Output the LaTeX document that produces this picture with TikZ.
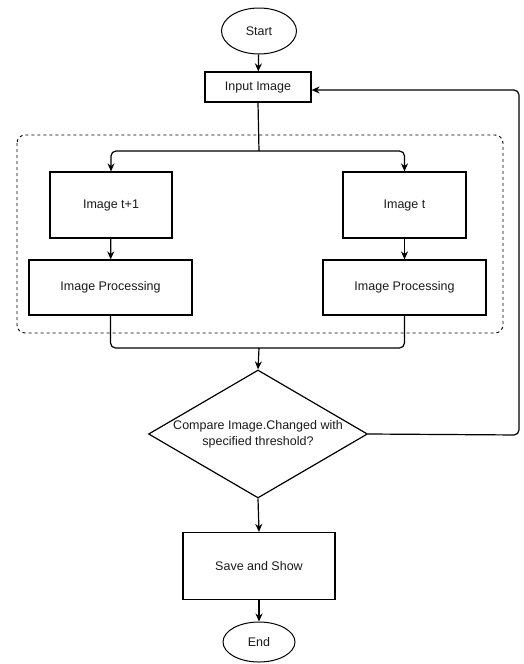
\documentclass[tikz,border=0pt]{standalone}
\usepackage{fontspec}
\setmainfont{Liberation Sans}
\usetikzlibrary{shapes.geometric,arrows.meta}
\begin{document}
\begin{tikzpicture}[x=1pt,y=-1pt,
  every node/.style={font=\fontsize{12.5}{16}\selectfont, text=black!90, inner sep=0pt, align=center},
  box/.style={draw, line width=1.2pt, minimum width=#1},
  term/.style={draw, ellipse, line width=1pt, minimum width=75pt, minimum height=46pt},
  arr/.style={line width=1.2pt, -{Stealth[length=8pt,width=7pt]}, rounded corners=5pt},
  ln/.style={line width=1.2pt, rounded corners=5pt}]
\useasboundingbox (0,0) rectangle (523,664);
\node[term] (start) at (259,31) {Start};
\node[box=106pt, minimum height=30pt] (input) at (258,87) {Input Image};
\draw[dashed, line width=0.9pt, rounded corners=8pt] (17,135) rectangle (503,333);
\node[box=122pt, minimum height=66pt] (it1) at (111,205) {Image t+1};
\node[box=123pt, minimum height=66pt] (it) at (404.5,205) {Image t};
\node[box=163pt, minimum height=55pt] (ip1) at (110.5,287.5) {Image Processing};
\node[box=163pt, minimum height=55pt] (ip2) at (404.5,287.5) {Image Processing};
\node[draw, diamond, line width=1.2pt, aspect=1.71, minimum width=219pt, minimum height=128pt, inner sep=-6pt] (cmp) at (258,434) {Compare Image.Changed with\\specified threshold?};
\node[box=152pt, minimum height=67pt] (save) at (259,566) {Save and Show};
\node[term, minimum width=72pt, minimum height=40pt] (end) at (259,642) {End};
\coordinate (split) at (259,151);
\coordinate (merge) at (259,348);
\draw[arr] (start) -- (input);
\draw[ln] (input.south) -- (split);
\draw[arr] (split) -| (it1.north);
\draw[arr] (split) -| (it.north);
\draw[arr] (it1) -- (ip1);
\draw[arr] (it) -- (ip2);
\draw[ln] (ip1.south) |- (merge);
\draw[ln] (ip2.south) |- (merge);
\draw[arr] (merge) -- (cmp.north);
\draw[arr] (cmp.east) -- (519,435) -- (519,90) -- (input.east |- 0,90);
\draw[arr] (cmp.south) -- (save.north);
\draw[arr] (save) -- (end);
\end{tikzpicture}
\end{document}
